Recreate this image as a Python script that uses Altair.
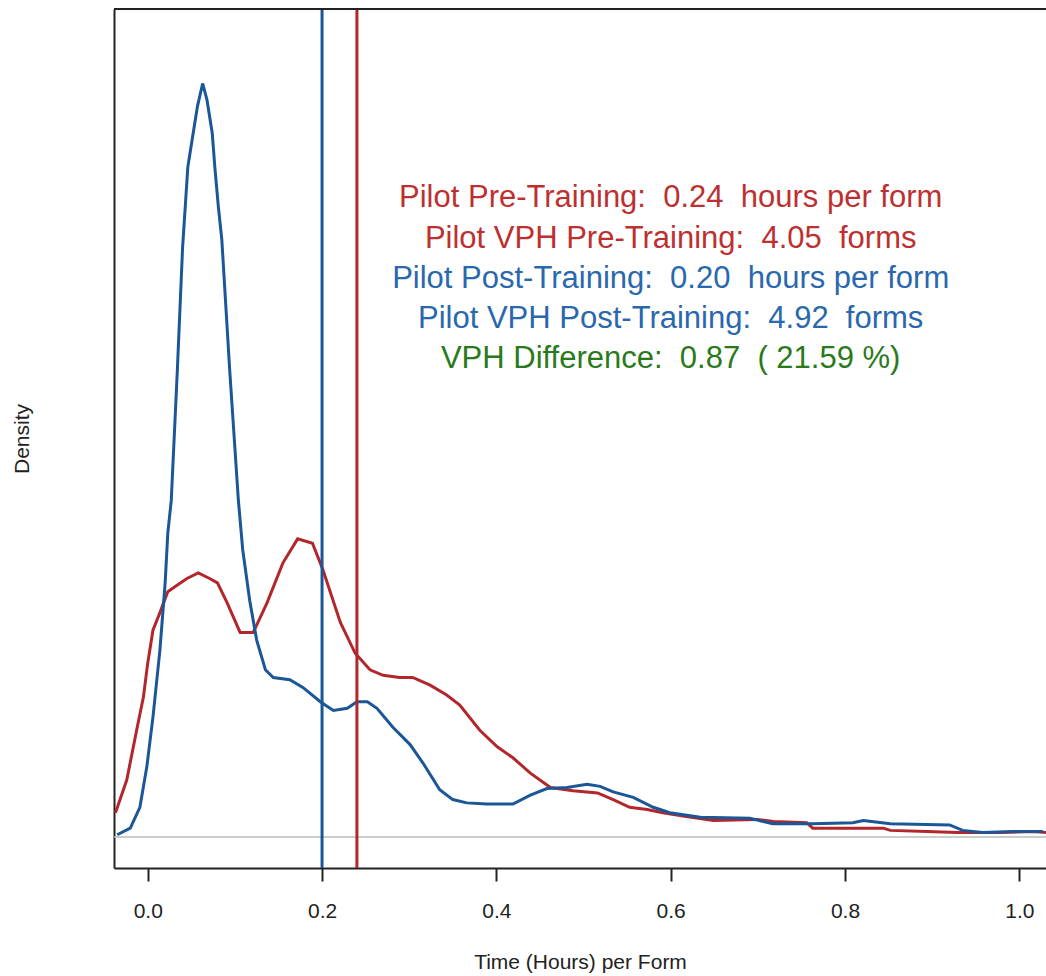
import altair as alt
import pandas as pd

# ---- data (density in arbitrary units) ----
red_x = [-0.037, -0.024, -0.012, -0.005, 0.000, 0.006, 0.014, 0.023, 0.034, 0.045,
         0.058, 0.071, 0.080, 0.091, 0.106, 0.121, 0.137, 0.155, 0.172, 0.189,
         0.201, 0.221, 0.238, 0.255, 0.270, 0.289, 0.304, 0.324, 0.343, 0.358,
         0.381, 0.401, 0.419, 0.439, 0.462, 0.488, 0.516, 0.534, 0.553, 0.573,
         0.591, 0.614, 0.649, 0.699, 0.718, 0.756, 0.763, 0.844, 0.852, 0.894,
         0.929, 0.978, 1.016, 1.031]
red_d = [0.22, 0.52, 1.00, 1.27, 1.58, 1.88, 2.04, 2.23, 2.29, 2.35,
         2.40, 2.35, 2.31, 2.13, 1.86, 1.86, 2.13, 2.49, 2.71, 2.67,
         2.43, 1.95, 1.67, 1.52, 1.47, 1.45, 1.45, 1.38, 1.29, 1.20,
         0.97, 0.82, 0.72, 0.58, 0.45, 0.42, 0.40, 0.34, 0.27, 0.25,
         0.22, 0.19, 0.15, 0.16, 0.14, 0.13, 0.08, 0.08, 0.06, 0.05,
         0.04, 0.04, 0.05, 0.04]

blue_x = [-0.035, -0.020, -0.009, -0.001, 0.006, 0.014, 0.020, 0.023, 0.027, 0.034,
          0.040, 0.046, 0.051, 0.057, 0.063, 0.068, 0.074, 0.077, 0.081, 0.085,
          0.094, 0.104, 0.109, 0.117, 0.125, 0.135, 0.144, 0.163, 0.178, 0.198,
          0.213, 0.229, 0.240, 0.252, 0.263, 0.281, 0.301, 0.316, 0.335, 0.350,
          0.366, 0.389, 0.419, 0.439, 0.458, 0.481, 0.504, 0.519, 0.534, 0.557,
          0.580, 0.599, 0.634, 0.691, 0.717, 0.763, 0.809, 0.821, 0.852, 0.920,
          0.935, 0.958, 0.993, 1.027]
blue_d = [0.02, 0.08, 0.27, 0.64, 1.09, 1.70, 2.31, 2.76, 3.06, 4.25,
          5.36, 6.09, 6.34, 6.64, 6.85, 6.70, 6.40, 6.09, 5.73, 5.43,
          4.25, 3.06, 2.61, 2.15, 1.79, 1.52, 1.45, 1.43, 1.36, 1.23,
          1.15, 1.17, 1.23, 1.23, 1.17, 1.00, 0.84, 0.67, 0.43, 0.34,
          0.31, 0.30, 0.30, 0.38, 0.44, 0.45, 0.48, 0.46, 0.41, 0.36,
          0.27, 0.22, 0.18, 0.17, 0.12, 0.12, 0.13, 0.15, 0.12, 0.11,
          0.06, 0.04, 0.05, 0.05]

mean_values = [0.24, 0.20]
mean_groups = ["Pre-Training", "Post-Training"]

NB = "\u00a0"
note_lines = [
    f"Pilot Pre-Training: {NB}0.24 {NB}hours per form",
    f"Pilot VPH Pre-Training: {NB}4.05 {NB}forms",
    f"Pilot Post-Training: {NB}0.20 {NB}hours per form",
    f"Pilot VPH Post-Training: {NB}4.92 {NB}forms",
    f"VPH Difference: {NB}0.87 {NB}( 21.59 %)",
]
note_groups = ["pre", "pre", "post", "post", "diff"]

x_ticks = [0.0, 0.2, 0.4, 0.6, 0.8, 1.0]

# ---- layout / style ----
RED = "#B2272B"
BLUE = "#1B5696"
TXT_RED = "#BE3030"
TXT_BLUE = "#2A68AE"
TXT_GREEN = "#2A7A1C"
FONT = "Liberation Sans"
W, H = 932, 859
X_DOM = [-0.0387, 1.0306]
Y_DOM = [-0.282, 7.527]
NOTE_X = 0.600
NOTE_Y = [5.727, 5.355, 4.991, 4.627, 4.264]

xs = alt.Scale(domain=X_DOM, nice=False, zero=False)
ys = alt.Scale(domain=Y_DOM, nice=False, zero=False)

red_df = pd.DataFrame({"x": red_x, "d": red_d})
blue_df = pd.DataFrame({"x": blue_x, "d": blue_d})
mean_df = pd.DataFrame({"m": mean_values, "g": mean_groups})
note_df = pd.DataFrame({"t": note_lines, "g": note_groups, "x": NOTE_X, "y": NOTE_Y})
zero_df = pd.DataFrame({"z": [0.0]})
one_df = pd.DataFrame({"a": [0]})

AX = alt.Axis(
    values=x_ticks, format=".1f", title="Time (Hours) per Form",
    grid=False, domain=True, domainColor="#222222", domainWidth=2,
    ticks=True, tickSize=13, tickWidth=2, tickColor="#222222",
    labelFont=FONT, labelFontSize=21, labelColor="#222222",
    labelBaseline="alphabetic", labelPadding=36,
    titleFont=FONT, titleFontSize=21, titleFontWeight="normal", titleColor="#222222",
    titleBaseline="alphabetic", titleY=100,
)
AY = alt.Axis(
    title="Density", grid=False, domain=True, domainColor="#222222", domainWidth=2,
    ticks=False, labels=False,
    titleFont=FONT, titleFontSize=21, titleFontWeight="normal", titleColor="#222222",
    titleAngle=-90, titleBaseline="middle", titleAlign="center",
    titleX=-92, titleY=H / 2,
)

zero_line = alt.Chart(zero_df).mark_rule(color="#BBBBBB", strokeWidth=1.5).encode(
    y=alt.Y("z:Q", scale=ys, axis=AY)
)

top_border = alt.Chart(one_df).mark_rule(color="#222222", strokeWidth=2).encode(
    x=alt.value(0), x2=alt.value(W), y=alt.value(0)
)

red_line = alt.Chart(red_df).mark_line(color=RED, strokeWidth=3, clip=True).encode(
    x=alt.X("x:Q", scale=xs, axis=AX),
    y=alt.Y("d:Q", scale=ys, axis=AY),
    order="x:Q",
)

blue_line = alt.Chart(blue_df).mark_line(color=BLUE, strokeWidth=3, clip=True).encode(
    x=alt.X("x:Q", scale=xs, axis=AX),
    y=alt.Y("d:Q", scale=ys, axis=AY),
    order="x:Q",
)

mean_rules = alt.Chart(mean_df).mark_rule(strokeWidth=3).encode(
    x=alt.X("m:Q", scale=xs, axis=AX),
    color=alt.Color("g:N", scale=alt.Scale(domain=mean_groups, range=[RED, BLUE]), legend=None),
)

notes = alt.Chart(note_df).mark_text(
    font=FONT, fontSize=31, align="center", baseline="alphabetic"
).encode(
    x=alt.X("x:Q", scale=xs, axis=AX),
    y=alt.Y("y:Q", scale=ys, axis=AY),
    text="t:N",
    color=alt.Color("g:N", scale=alt.Scale(domain=["pre", "post", "diff"],
                                            range=[TXT_RED, TXT_BLUE, TXT_GREEN]), legend=None),
)

chart = alt.layer(
    zero_line, red_line, blue_line, mean_rules, notes, top_border
).resolve_scale(color="independent").properties(
    width=W, height=H,
    autosize=alt.AutoSizeParams(type="none"),
    padding={"left": 114, "top": 9, "right": 0, "bottom": 108},
    background="white",
).configure_view(stroke=None)

chart.save("out.html", embed_options={"renderer": "svg", "actions": False})
